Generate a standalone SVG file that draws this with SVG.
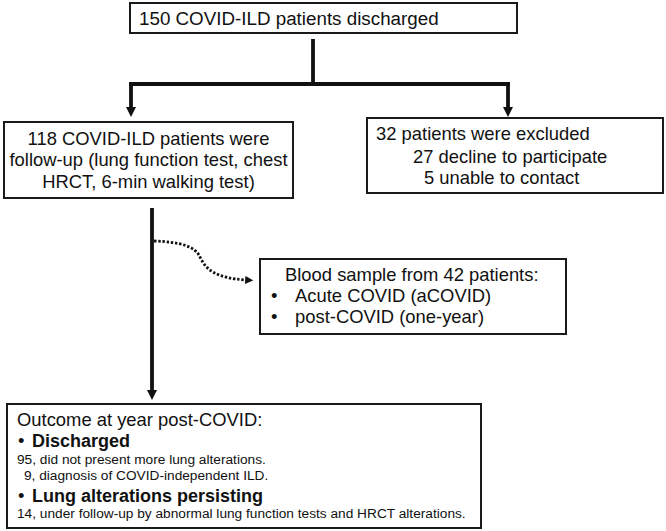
<svg xmlns="http://www.w3.org/2000/svg" width="666" height="531" viewBox="0 0 666 531">
<style>
.box{fill:#fff;stroke:#1a1a1a;stroke-width:2}
.t{font-family:"Liberation Sans",Arial,Helvetica,sans-serif;font-size:18.4px;fill:#111}
.c{text-anchor:middle}
.b{font-weight:bold;font-size:18px}
.s{font-size:13.7px}
.ln{fill:none;stroke:#111;stroke-width:3.8}
.dot{fill:none;stroke:#111;stroke-width:2.8;stroke-dasharray:2.4 1.8}
</style>
<defs>
<marker id="ah" viewBox="0 0 10 10" refX="1" refY="5" markerWidth="10" markerHeight="11" markerUnits="userSpaceOnUse" orient="auto">
<path d="M0,0 L10,5 L0,10 Z" fill="#111"/>
</marker>
<marker id="ahs" viewBox="0 0 10 10" refX="1" refY="5" markerWidth="8" markerHeight="8" markerUnits="userSpaceOnUse" orient="auto">
<path d="M0,0 L10,5 L0,10 Z" fill="#111"/>
</marker>
</defs>
<rect width="666" height="531" fill="#fff"/>
<g id="connectors">
<line class="ln" x1="313" y1="39" x2="313" y2="84"/>
<line class="ln" x1="129.1" y1="84" x2="509.9" y2="84"/>
<line class="ln" x1="131" y1="82.1" x2="131" y2="108" marker-end="url(#ah)"/>
<line class="ln" x1="508" y1="82.1" x2="508" y2="108" marker-end="url(#ah)"/>
<line class="ln" x1="152" y1="208" x2="152" y2="391" marker-end="url(#ah)"/>
<path class="dot" d="M154,241 C180,242 195,246 200,257 C206,270 216,278 246,280" marker-end="url(#ahs)"/>
</g>
<g id="n1">
<rect class="box" x="130" y="3" width="387" height="30"/>
<text class="t" x="139" y="25" style="font-size:18.8px">150 COVID-ILD patients discharged</text>
</g>
<g id="n2">
<rect class="box" x="4" y="122" width="289" height="76"/>
<text class="t c" x="148.5" y="144.5">118 COVID-ILD patients were</text>
<text class="t c" x="148.5" y="166">follow-up (lung function test, chest</text>
<text class="t c" x="148.5" y="187.5">HRCT, 6-min walking test)</text>
</g>
<g id="n3">
<rect class="box" x="367" y="118" width="296" height="75"/>
<text class="t" x="376" y="140">32 patients were excluded</text>
<text class="t" x="413" y="162.5">27 decline to participate</text>
<text class="t" x="424" y="183.5">5 unable to contact</text>
</g>
<g id="n4">
<rect class="box" x="260" y="259" width="306" height="75"/>
<text class="t" x="285" y="281">Blood sample from 42 patients:</text>
<text class="t" x="271" y="302">•</text>
<text class="t" x="295" y="302">Acute COVID (aCOVID)</text>
<text class="t" x="271" y="323">•</text>
<text class="t" x="295" y="323">post-COVID (one-year)</text>
</g>
<g id="n5">
<rect class="box" x="7" y="404" width="474" height="124"/>
<text class="t" x="17" y="425.5">Outcome at year post-COVID:</text>
<text class="t" x="18" y="447">•</text>
<text class="t b" x="32" y="447">Discharged</text>
<text class="t s" x="17" y="463.5">95, did not present more lung alterations.</text>
<text class="t s" x="24" y="480">9, diagnosis of COVID-independent ILD.</text>
<text class="t" x="18" y="501.5">•</text>
<text class="t b" x="32" y="501.5">Lung alterations persisting</text>
<text class="t s" x="17" y="518">14, under follow-up by abnormal lung function tests and HRCT alterations.</text>
</g>
</svg>
